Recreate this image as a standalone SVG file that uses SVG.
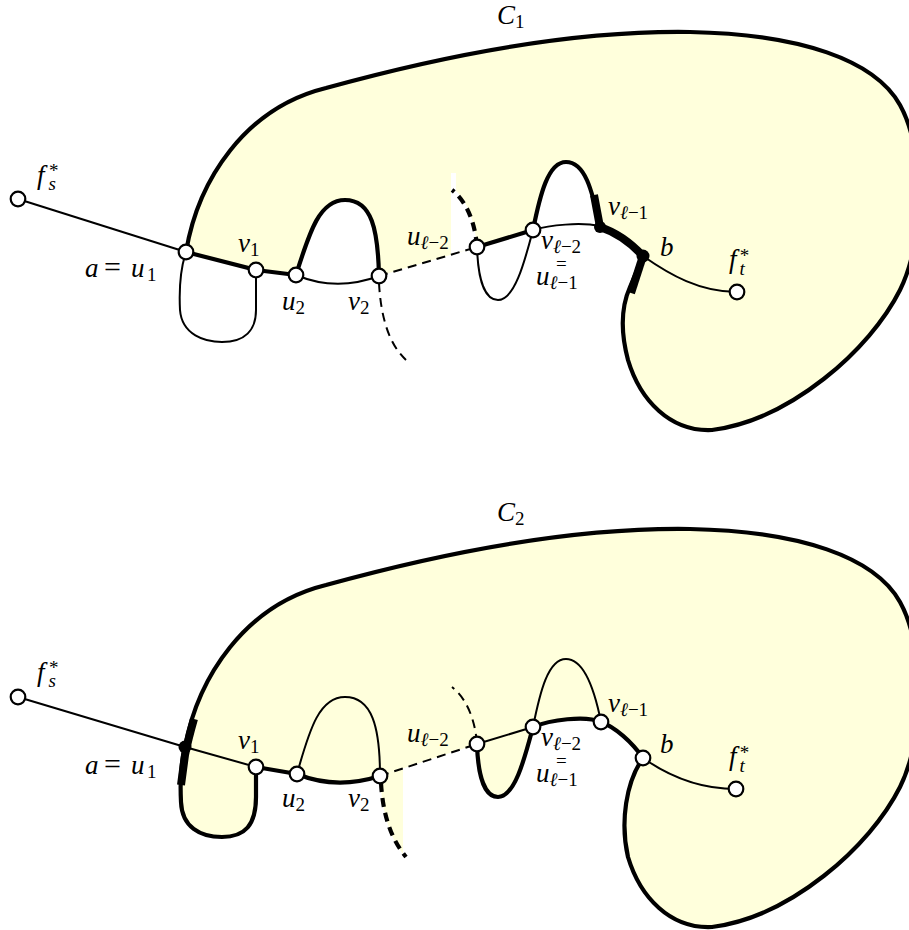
<svg xmlns="http://www.w3.org/2000/svg" width="909" height="930" viewBox="0 0 909 930">
<style>
.thin{fill:none;stroke:#000;stroke-width:2}
.thick{fill:none;stroke:#000;stroke-width:4.2;stroke-linejoin:round}
.xthick{fill:none;stroke:#000;stroke-width:8;stroke-linecap:butt;stroke-linejoin:round}
.dash{stroke-dasharray:9 6}
.node{fill:#fff;stroke:#000;stroke-width:2.2}
.dot{fill:#000}
.region{fill:#ffffdc;stroke:none}
.blank{fill:#fff;stroke:none}
text{font-family:"Liberation Serif","DejaVu Serif",serif;font-size:27px;fill:#000}
.i{font-style:italic}
.s{font-size:19px}
.eq{font-size:30px}
</style>
<rect width="909" height="930" fill="#fff"/>

<!-- ============ C1 ============ -->
<g id="c1">
  <g id="c1-region">
    <path class="region" d="M186,252 C198,180 245,108 326,88 C420,62 560,30 690,32 C800,34 875,60 900,105 C925,150 925,240 900,290 C870,350 790,420 712,430 C670,432 640,400 628,360 C620,330 622,305 630,287 L643,256 C630,242 615,232 600,227 C592,190 585,162 566,162 C548,162 540,195 533,230 L477,247 L379,276 C378,230 372,200 345,200 C320,200 310,230 296,275 L256,270 Z"/>
    <path class="blank" d="M451,173 L456,173 L456,191 C466,200 475,220 477,247 L451,254 Z"/>
  </g>
  <g id="c1-connectors">
    <path class="thick" d="M186,252 C198,180 245,108 326,88 C420,62 560,30 690,32 C800,34 875,60 900,105 C925,150 925,240 900,290 C870,350 790,420 712,430 C670,432 640,400 628,360 C620,330 622,305 630,287 L643,256"/>
    <path class="thin" d="M18,199 L186,252"/>
    <path class="thick" d="M186,252 L256,270 L296,275"/>
    <path class="thin" d="M296,275 Q336,292 379,276"/>
    <path class="thick" d="M296,275 C310,230 320,200 345,200 C372,200 378,230 379,276"/>
    <path class="thin" d="M186,252 C180,270 179,290 180,310 C182,335 205,342 222,342 C245,342 256,330 256,310 L256,270"/>
    <path class="thin dash" d="M379,283 C381,320 390,345 406,360"/>
    <path class="thin dash" d="M379,276 L477,247"/>
    <path class="thick dash" stroke-dashoffset="6" d="M452,190 C465,200 475,220 477,247"/>
    <path class="thick" d="M477,247 L533,230"/>
    <path class="thin" d="M477,247 C478,280 485,300 498,300 C515,300 525,260 533,230"/>
    <path class="thin" d="M533,230 C550,225 580,222 600,226"/>
    <path class="thick" d="M533,230 C540,195 548,162 566,162 C585,162 592,190 600,226"/>
    <path class="xthick" d="M594,195 L600,227"/>
    <path class="xthick" d="M600,227 C615,232 630,242 643,256"/>
    <path class="xthick" d="M643,256 L631,293"/>
    <path class="thin" d="M643,256 C670,275 700,292 737,292"/>
  </g>
  <g id="c1-label"><text x="497" y="24"><tspan class="i">C</tspan><tspan class="s" dy="4">1</tspan></text></g>
  <g id="c1-fs"><circle class="node" cx="18" cy="199" r="7.3"/><text x="37" y="184"><tspan class="i">f</tspan><tspan class="s i" dx="4" dy="6">s</tspan><tspan class="s" dx="-7" dy="-13">*</tspan></text></g>
  <g id="c1-a"><circle class="node" cx="186" cy="252" r="7.3"/><text y="277"><tspan class="i" x="85">a</tspan><tspan class="eq" x="104">=</tspan><tspan class="i" x="131">u</tspan><tspan class="s" x="147" y="281">1</tspan></text></g>
  <g id="c1-v1"><circle class="node" cx="256" cy="270" r="7.3"/><text x="238" y="252"><tspan class="i">v</tspan><tspan class="s" dy="4">1</tspan></text></g>
  <g id="c1-u2"><circle class="node" cx="296" cy="275" r="7.3"/><text x="282" y="310"><tspan class="i">u</tspan><tspan class="s" dy="4">2</tspan></text></g>
  <g id="c1-v2"><circle class="node" cx="379" cy="276" r="7.3"/><text x="348" y="310"><tspan class="i">v</tspan><tspan class="s" dy="4">2</tspan></text></g>
  <g id="c1-ul2"><circle class="node" cx="477" cy="247" r="7.3"/><text x="407" y="245"><tspan class="i">u</tspan><tspan class="s" dy="4"><tspan class="i">ℓ</tspan>−2</tspan></text></g>
  <g id="c1-vl2"><circle class="node" cx="533" cy="230" r="7.3"/><text x="541" y="249"><tspan class="i">v</tspan><tspan class="s" dy="4"><tspan class="i">ℓ</tspan>−2</tspan></text><text class="s" x="556" y="270">=</text><text x="536" y="285"><tspan class="i">u</tspan><tspan class="s" dy="4"><tspan class="i">ℓ</tspan>−1</tspan></text></g>
  <g id="c1-vl1"><circle class="dot" cx="600" cy="227" r="6"/><text x="608" y="215"><tspan class="i">v</tspan><tspan class="s" dy="4"><tspan class="i">ℓ</tspan>−1</tspan></text></g>
  <g id="c1-b"><circle class="dot" cx="643" cy="256" r="6.5"/><text class="i" x="660" y="256">b</text></g>
  <g id="c1-ft"><circle class="node" cx="737" cy="292" r="7.3"/><text x="729" y="268"><tspan class="i">f</tspan><tspan class="s i" dx="3" dy="7">t</tspan><tspan class="s" dx="-5" dy="-13">*</tspan></text></g>
</g>

<!-- ============ C2 ============ -->
<g id="c2" transform="translate(0,497)">
  <g id="c2-region">
    <path class="region" d="M185,250 C198,180 245,108 326,88 C420,62 560,30 690,32 C800,34 875,60 900,105 C925,150 925,240 900,290 C870,350 790,420 712,430 C670,432 640,400 628,360 C620,325 626,285 643,261 C632,245 615,230 601,225 C585,218 550,223 533,230 C525,260 515,300 498,300 C485,300 478,280 477,247 L380,279 Q336,293 297,277 L256,270 L256,300 C256,328 245,340 222,340 C200,340 182,330 181,305 C180,285 181,265 185,250 Z"/>
    <path class="region" d="M380,279 C382,318 391,343 405,359 L403,359 L403,271 Z"/>
  </g>
  <g id="c2-connectors">
    <path class="thick" d="M185,250 C198,180 245,108 326,88 C420,62 560,30 690,32 C800,34 875,60 900,105 C925,150 925,240 900,290 C870,350 790,420 712,430 C670,432 640,400 628,360 C620,325 626,285 643,261"/>
    <path class="thin" d="M18,200 L185,250 L256,270"/>
    <path class="thick" d="M256,270 L297,277 Q336,293 380,279"/>
    <path class="thin" d="M297,277 C310,230 320,200 345,200 C372,200 380,230 380,279"/>
    <path class="thick" d="M256,270 L256,300 C256,328 245,340 222,340 C200,340 182,330 181,305 C180,285 181,265 185,250"/>
    <path class="xthick" d="M194,222 C190,236 187,248 185,258 L181,288"/>
    <path class="thick dash" d="M381,286 C383,320 392,343 406,360"/>
    <path class="thin dash" d="M380,279 L477,247"/>
    <path class="thin dash" stroke-dashoffset="6" d="M452,190 C465,200 475,220 477,247"/>
    <path class="thin" d="M477,247 L533,230"/>
    <path class="thick" d="M477,247 C478,280 485,300 498,300 C515,300 525,260 533,230"/>
    <path class="thick" d="M533,230 C550,223 585,218 601,225"/>
    <path class="thin" d="M533,230 C540,195 548,162 566,162 C585,162 595,195 601,225"/>
    <path class="thick" d="M601,225 C615,230 632,245 643,261"/>
    <path class="thin" d="M643,261 C670,280 700,292 736,292"/>
  </g>
  <g id="c2-label"><text x="497" y="24"><tspan class="i">C</tspan><tspan class="s" dy="4">2</tspan></text></g>
  <g id="c2-fs"><circle class="node" cx="18" cy="200" r="7.3"/><text x="37" y="184"><tspan class="i">f</tspan><tspan class="s i" dx="4" dy="6">s</tspan><tspan class="s" dx="-7" dy="-13">*</tspan></text></g>
  <g id="c2-a"><circle class="dot" cx="185" cy="250" r="6.5"/><text y="277"><tspan class="i" x="85">a</tspan><tspan class="eq" x="104">=</tspan><tspan class="i" x="131">u</tspan><tspan class="s" x="147" y="281">1</tspan></text></g>
  <g id="c2-v1"><circle class="node" cx="256" cy="270" r="7.3"/><text x="238" y="252"><tspan class="i">v</tspan><tspan class="s" dy="4">1</tspan></text></g>
  <g id="c2-u2"><circle class="node" cx="297" cy="277" r="7.3"/><text x="282" y="310"><tspan class="i">u</tspan><tspan class="s" dy="4">2</tspan></text></g>
  <g id="c2-v2"><circle class="node" cx="380" cy="279" r="7.3"/><text x="348" y="310"><tspan class="i">v</tspan><tspan class="s" dy="4">2</tspan></text></g>
  <g id="c2-ul2"><circle class="node" cx="477" cy="247" r="7.3"/><text x="407" y="245"><tspan class="i">u</tspan><tspan class="s" dy="4"><tspan class="i">ℓ</tspan>−2</tspan></text></g>
  <g id="c2-vl2"><circle class="node" cx="533" cy="230" r="7.3"/><text x="541" y="249"><tspan class="i">v</tspan><tspan class="s" dy="4"><tspan class="i">ℓ</tspan>−2</tspan></text><text class="s" x="556" y="270">=</text><text x="536" y="285"><tspan class="i">u</tspan><tspan class="s" dy="4"><tspan class="i">ℓ</tspan>−1</tspan></text></g>
  <g id="c2-vl1"><circle class="node" cx="601" cy="225" r="7.3"/><text x="608" y="215"><tspan class="i">v</tspan><tspan class="s" dy="4"><tspan class="i">ℓ</tspan>−1</tspan></text></g>
  <g id="c2-b"><circle class="node" cx="643" cy="261" r="7.3"/><text class="i" x="660" y="256">b</text></g>
  <g id="c2-ft"><circle class="node" cx="736" cy="292" r="7.3"/><text x="729" y="268"><tspan class="i">f</tspan><tspan class="s i" dx="3" dy="7">t</tspan><tspan class="s" dx="-5" dy="-13">*</tspan></text></g>
</g>
</svg>
